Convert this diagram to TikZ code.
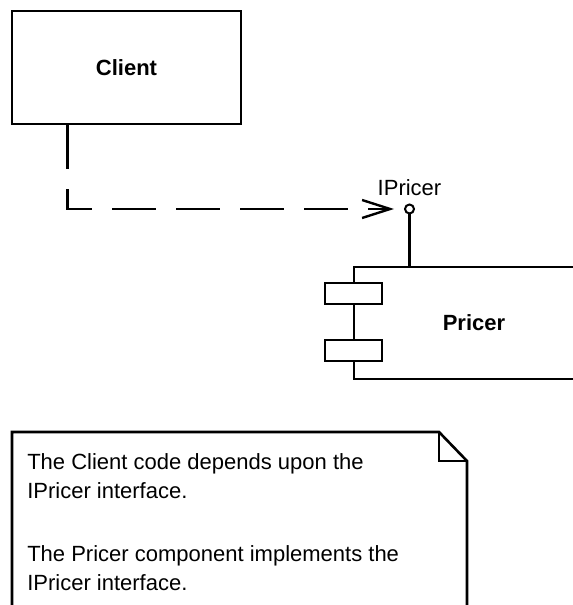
\documentclass[tikz,border=0pt]{standalone}
\usepackage{fontspec}
\setmainfont{Liberation Sans}
\usepackage{tikz}
\usetikzlibrary{positioning,arrows.meta}

\begin{document}
\begin{tikzpicture}[>={Straight Barb[length=28bp,width=18bp,line width=2.4bp]},line join=miter,
  line width=2.6bp,
  box/.style={draw,rectangle,inner sep=0pt},
  port/.style={box,fill=white,minimum width=57bp,minimum height=21bp},
  depend/.style={dash pattern=on 44bp off 20bp,->,shorten >=10bp},
  txt/.style={font=\fontsize{22bp}{29bp}\selectfont}]
%%
\clip (0bp,0bp) rectangle (573bp,605bp);
\node (client) at (126.5bp,537.5bp) [box,txt,font=\fontsize{22bp}{29bp}\selectfont\bfseries,minimum width=229bp,minimum height=113bp] {Client};
  \node (pricer) at (474bp,282bp) [box,txt,font=\fontsize{22bp}{29bp}\selectfont\bfseries,minimum width=240bp,minimum height=112bp] {Pricer};
  \node (port_1) at (353.5bp,311.5bp) [port] {};
  \node (port_2) at (353.5bp,254.5bp) [port] {};
  \node (lolli) at (409.5bp,396bp) [draw,circle,fill=white,line width=2bp,inner sep=0pt,minimum size=9bp] {};
  \node (lolli_label) [above=6bp of lolli,txt,inner sep=0pt] {IPricer};
  \coordinate (dep_start) at ([xshift=57bp]client.south west);
  \coordinate (dep_corner) at (dep_start |- lolli);
  \draw [depend] (dep_start) -- (dep_corner) -- (lolli.west);
  \draw (lolli.south) -- (lolli.south |- pricer.north);
%
\draw (12bp,-20bp) -- (12bp,173bp) -- (439bp,173bp) -- (467bp,144bp) -- (467bp,-20bp);
  \draw (439bp,173bp) -- (439bp,144bp) -- (467bp,144bp);
  \node (note) at (26bp,153bp) [anchor=north west,txt,align=left,inner sep=0pt] {The Client code depends upon the\\IPricer interface.\\[34bp]The Pricer component implements the\\IPricer interface.};
%
\end{tikzpicture}
\end{document}
